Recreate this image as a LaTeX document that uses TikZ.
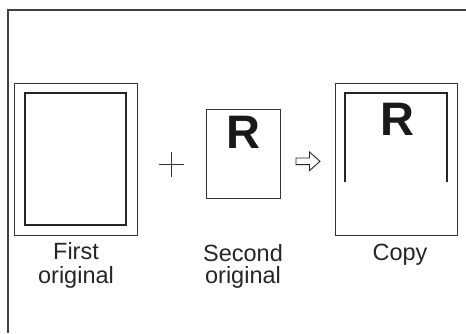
\documentclass[tikz,border=0pt]{standalone}
\usepackage{fontspec}
\setmainfont{Liberation Sans}
\begin{document}
\begin{tikzpicture}[x=1pt,y=-1pt,
  frame/.style={draw=black!75,line width=1.3pt},
  thinbox/.style={draw=black!80,line width=0.9pt},
  thickbox/.style={draw=black!85,line width=2pt},
  lbl/.style={font=\fontsize{23.5}{25}\selectfont,text=black!85,inner sep=0pt,anchor=base},
  bigR/.style={font=\fontsize{47}{47}\selectfont\bfseries,text=black!90,inner sep=0pt,anchor=base}]
\useasboundingbox (0,0) rectangle (466,333);
% frame
\coordinate (ftr) at (466,10);
\coordinate (ftl) at (8,10);
\coordinate (fbl) at (8,333);
\draw[frame] (ftr) -- (ftl) -- (fbl);
% first original
\draw[thinbox] (14,83) rectangle (137,235);
\draw[thickbox] (25,93) rectangle (126,225);
\node[lbl] (l1a) at (76,259.5) {First};
\node[lbl] (l1b) at (76,283) {original};
% plus
\coordinate (pl) at (158.5,164.5);
\coordinate (pr) at (183.5,164.5);
\coordinate (pt) at (171,152);
\coordinate (pb) at (171,177);
\draw[thinbox] (pl) -- (pr) (pt) -- (pb);
% second original
\draw[thinbox] (206,109.5) rectangle (280,198);
\node[bigR] (r2) at (243.5,148.5) {R};
\node[lbl] (l2a) at (243,261.5) {Second};
\node[lbl] (l2b) at (243,283) {original};
% arrow
\draw[draw=black!85,line width=0.9pt,line join=miter]
  (296,158) -- (309.5,158) -- (309.5,152) -- (320,161.3) -- (309.5,170.6) -- (309.5,164.6) -- (296,164.6) -- cycle;
% copy
\draw[thinbox] (335,83) rectangle (457,235);
\draw[thickbox] (345,182) -- (345,93) -- (447,93) -- (447,182);
\node[bigR] (r3) at (397,135.5) {R};
\node[lbl] (l3) at (400,260) {Copy};
\end{tikzpicture}
\end{document}
